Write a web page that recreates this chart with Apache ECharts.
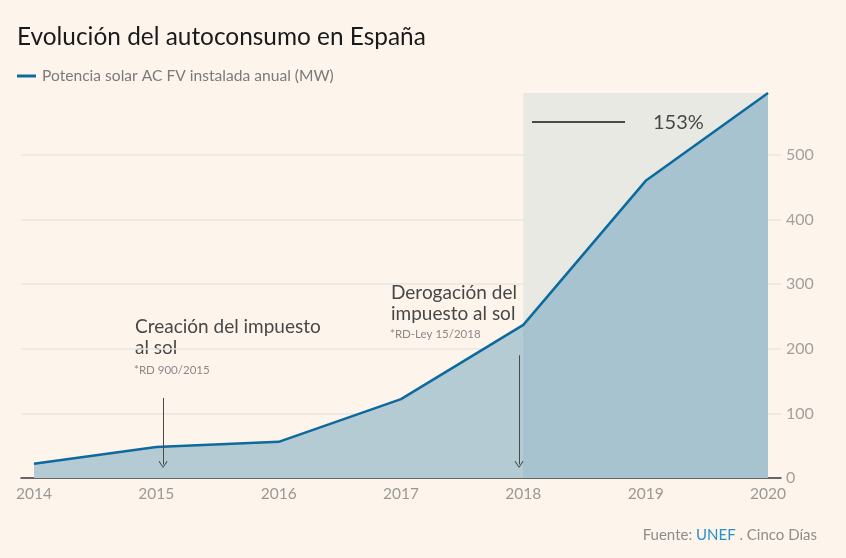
<!DOCTYPE html>
<html>
  <head>
    <meta charset="utf-8" />
    <title>Evolución del autoconsumo en España</title>
    <style>
      html,
      body {
        margin: 0;
        padding: 0;
        background: #fdf5ec;
      }
      #chart-container {
        width: 846px;
        height: 558px;
      }
    </style>
    <script src="https://cdn.jsdelivr.net/npm/echarts@6/dist/echarts.min.js"></script>
  </head>
  <body>
    <div id="chart-container"></div>

    <script>
      // datos
      var years = [2014, 2015, 2016, 2017, 2018, 2019, 2020];
      var potencia = [22, 48, 56, 122, 237, 460, 596];
      var yTicks = [0, 100, 200, 300, 400, 500];
      var tramoDestacado = [2018, 2020];
      // flechas de las anotaciones: [año, valor arriba, valor abajo]
      var flechas = [
        [2015.055, 124, 21],
        [2017.965, 190, 21],
      ];

      var FONT = "Lato, 'Noto Sans', sans-serif";
      var xMin = 2013.894;
      var xMax = 2020.106;

      var myChart = echarts.init(document.getElementById("chart-container"), null, {
        renderer: "canvas",
      });

      // el relleno cambia de tono a partir de 2018 (fracción del ancho del área)
      var corte = (tramoDestacado[0] - years[0]) / (years[years.length - 1] - years[0]);

      var option = {
        backgroundColor: "#fdf5ec",
        animation: false,
        textStyle: { fontFamily: FONT },
        grid: { left: 21, right: 65, top: 93, bottom: 80 },
        xAxis: {
          type: "value",
          min: xMin,
          max: xMax,
          axisLine: { lineStyle: { color: "#3a3a3a", width: 1.5 } },
          axisTick: { show: false },
          splitLine: { show: false },
          axisLabel: {
            customValues: years,
            formatter: function (v) {
              return String(v);
            },
            color: "#9a9895",
            fontSize: 15.5,
            margin: 8,
            fontFamily: FONT,
          },
        },
        yAxis: {
          type: "value",
          position: "right",
          min: 0,
          max: potencia[potencia.length - 1],
          interval: 100,
          axisLine: { show: false },
          axisTick: { show: false },
          axisLabel: {
            showMaxLabel: false,
            color: "#a3a09c",
            fontSize: 16,
            margin: 5,
            fontFamily: FONT,
          },
          splitLine: {
            lineStyle: {
              color: yTicks.map(function () { return "#e8e5e0"; }).concat(["rgba(0,0,0,0)"]),
              width: 1.5,
            },
          },
        },
        series: [
          {
            // zona sombreada 2018-2020
            type: "line",
            data: [],
            z: 1,
            markArea: {
              silent: true,
              itemStyle: { color: "#e9e9e4" },
              data: [[{ xAxis: tramoDestacado[0], yAxis: 0 }, { xAxis: tramoDestacado[1], yAxis: potencia[potencia.length - 1] }]],
            },
          },
          {
            name: "Potencia solar AC FV instalada anual (MW)",
            type: "line",
            z: 3,
            data: years.map(function (y, i) { return [y, potencia[i]]; }),
            showSymbol: false,
            lineStyle: { color: "#0c6a9e", width: 2.5 },
            itemStyle: { color: "#0c6a9e" },
            areaStyle: {
              opacity: 1,
              color: new echarts.graphic.LinearGradient(0, 0, 1, 0, [
                { offset: 0, color: "#b5cbd3" },
                { offset: corte, color: "#b5cbd3" },
                { offset: corte, color: "#a6c3cf" },
                { offset: 1, color: "#a6c3cf" },
              ]),
            },
            markLine: {
              silent: true,
              symbol: ["none", "path://M0,10 L5,0 L10,10 L9,10.8 L5,2.2 L1,10.8 Z"],
              symbolSize: [9, 7],
              label: { show: false },
              lineStyle: { color: "#4a4a4a", width: 1, type: "solid" },
              data: flechas.map(function (f) {
                return [{ coord: [f[0], f[1]] }, { coord: [f[0], f[2]] }];
              }),
            },
          },
        ],
        graphic: [
          {
            type: "text",
            left: 17,
            top: 25,
            style: {
              text: "Evolución del autoconsumo en España",
              fontSize: 24.4,
              fontFamily: FONT,
              fill: "#1a1a1a",
            },
          },
          {
            type: "line",
            shape: { x1: 17, y1: 76, x2: 36, y2: 76 },
            style: { stroke: "#0c6a9e", lineWidth: 3 },
          },
          {
            type: "text",
            left: 42,
            top: 68,
            style: {
              text: "Potencia solar AC FV instalada anual (MW)",
              fontSize: 15.6,
              fontFamily: FONT,
              fill: "#7c7a78",
            },
          },
          {
            type: "text",
            left: 135,
            top: 316,
            style: {
              text: "Creación del impuesto\nal sol",
              fontSize: 19,
              lineHeight: 21,
              fontFamily: FONT,
              fill: "#474747",
            },
          },
          {
            type: "text",
            left: 134,
            top: 364,
            style: { text: "*RD 900/2015", fontSize: 11.5, fontFamily: FONT, fill: "#8a8886" },
          },
          {
            type: "text",
            left: 391,
            top: 282,
            style: {
              text: "Derogación del\nimpuesto al sol",
              fontSize: 19,
              lineHeight: 21,
              fontFamily: FONT,
              fill: "#474747",
            },
          },
          {
            type: "text",
            left: 390,
            top: 328,
            style: { text: "*RD-Ley 15/2018", fontSize: 11.5, fontFamily: FONT, fill: "#8a8886" },
          },
          {
            type: "line",
            z: 10,
            shape: { x1: 532, y1: 122, x2: 625, y2: 122 },
            style: { stroke: "#4a4a4a", lineWidth: 2 },
          },
          {
            type: "text",
            z: 10,
            left: 653,
            top: 113,
            style: { text: "153%", fontSize: 20, fontFamily: FONT, fill: "#474747" },
          },
          {
            type: "text",
            right: 29,
            top: 528,
            style: {
              text: "{a|Fuente: }{b|UNEF}{a| . Cinco Días}",
              fontFamily: FONT,
              rich: {
                a: { fontSize: 15, fill: "#8f8d8a", fontFamily: FONT },
                b: { fontSize: 15, fill: "#2a90c8", fontFamily: FONT },
              },
            },
          },
        ],
      };

      myChart.setOption(option);
    </script>
  </body>
</html>
